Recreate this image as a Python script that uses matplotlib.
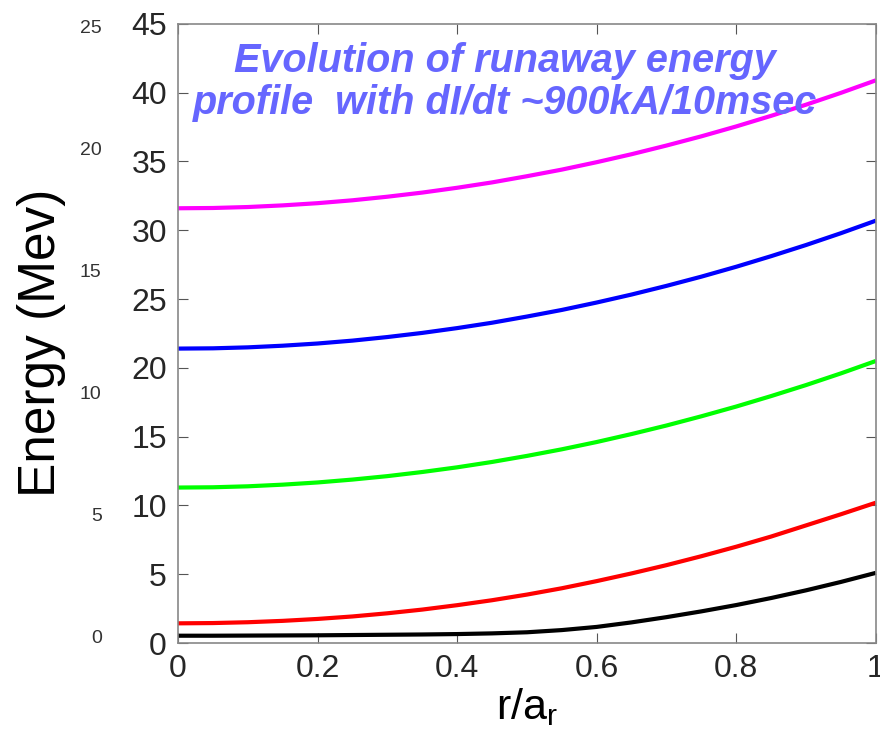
import numpy as np
import matplotlib
matplotlib.use('Agg')
import matplotlib.pyplot as plt
import matplotlib.ticker

plt.rcParams['font.family'] = ['Liberation Sans', 'DejaVu Sans']
plt.rcParams['mathtext.fontset'] = 'custom'
plt.rcParams['mathtext.rm'] = 'Liberation Sans'
plt.rcParams['mathtext.it'] = 'Liberation Sans:italic'

# radius r/a_r and energy profiles (MeV)
r = [0.0, 0.05, 0.1, 0.15, 0.2, 0.25, 0.3, 0.35, 0.4, 0.45, 0.5,
     0.55, 0.6, 0.65, 0.7, 0.75, 0.8, 0.85, 0.9, 0.95, 1.0]
e_black = [0.53, 0.53, 0.54, 0.55, 0.56, 0.58, 0.60, 0.62, 0.65, 0.70, 0.78,
           0.94, 1.17, 1.50, 1.88, 2.30, 2.76, 3.27, 3.83, 4.44, 5.1]
e_red = [1.43, 1.45, 1.51, 1.61, 1.75, 1.93, 2.16, 2.43, 2.75, 3.11, 3.52,
         3.98, 4.5, 5.06, 5.66, 6.31, 7.0, 7.74, 8.55, 9.36, 10.2]
e_green = [11.3, 11.32, 11.39, 11.51, 11.67, 11.88, 12.13, 12.43, 12.77, 13.16, 13.6,
           14.08, 14.61, 15.19, 15.81, 16.48, 17.19, 17.95, 18.75, 19.6, 20.5]
e_blue = [21.4, 21.42, 21.49, 21.61, 21.77, 21.98, 22.24, 22.54, 22.89, 23.28, 23.73,
          24.21, 24.75, 25.33, 25.96, 26.63, 27.35, 28.12, 28.93, 29.79, 30.7]
e_magenta = [31.6, 31.62, 31.69, 31.81, 31.97, 32.18, 32.44, 32.74, 33.09, 33.48, 33.93,
             34.41, 34.95, 35.53, 36.16, 36.83, 37.55, 38.32, 39.13, 39.99, 40.9]

# leftover tick labels of an older axis (0..25) seen at far left
old_ticks = [0, 5, 10, 15, 20, 25]

fig = plt.figure(figsize=(8.8, 7.45), dpi=100)
pos = [0.2023, 0.1369, 0.793, 0.831]

# ghost axis with the small grey labels
ax2 = fig.add_axes(pos, frameon=False)
ax2.set_ylim(-0.287, 25.12)
ax2.set_yticks(old_ticks)
ax2.set_xticks([])
ax2.tick_params(axis='y', length=0, pad=55, labelsize=14, labelcolor='#333333')

ax = fig.add_axes(pos)
ax.patch.set_alpha(0)
for e, c in [(e_black, 'black'), (e_red, 'red'), (e_green, '#00ff00'),
             (e_blue, 'blue'), (e_magenta, 'magenta')]:
    ax.plot(r, e, color=c, lw=3, solid_capstyle='butt')

ax.set_xlim(0, 1)
ax.set_ylim(0, 45)
ax.set_xticks([0, 0.2, 0.4, 0.6, 0.8, 1])
ax.set_yticks(np.arange(0, 46, 5))
ax.xaxis.set_major_formatter(matplotlib.ticker.FormatStrFormatter("%g"))
ax.tick_params(direction='in', top=True, right=True, length=7, width=0.8,
               color='#555555', labelsize=23, labelcolor='#262626')
ax.tick_params(axis='y', pad=8)
ax.tick_params(axis='x', pad=8)
for s in ax.spines.values():
    s.set_color('#888888')
    s.set_linewidth(1.2)

ax.set_ylabel('Energy (Mev)', fontsize=37, color='black')
ax.yaxis.set_label_coords(-0.16, 0.485)
ax.set_xlabel(r'r/a$_\mathrm{r}$', fontsize=31, color='black')
ax.xaxis.set_label_coords(0.5, -0.07)
ax.xaxis.label.set_va('top')

ax.text(0.468, 0.906, 'Evolution of runaway energy\nprofile  with dI/dt ~900kA/10msec',
        transform=ax.transAxes, ha='center', va='center', fontsize=28.5,
        fontweight='bold', fontstyle='italic', color='#6666ff', linespacing=1.12)

fig.savefig('out.png', dpi=100)
